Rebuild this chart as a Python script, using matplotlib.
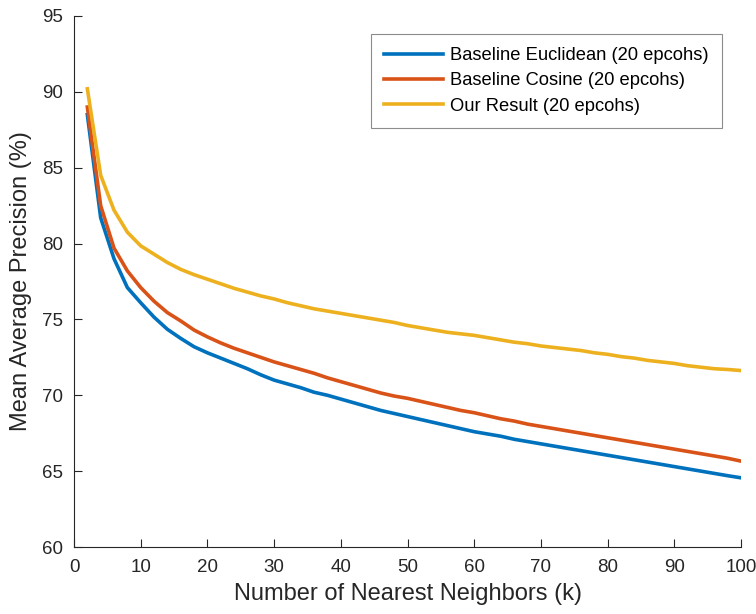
import matplotlib
matplotlib.use("Agg")
import matplotlib.pyplot as plt
import numpy as np

plt.rcParams['font.family'] = ['Liberation Sans', 'DejaVu Sans']

k = list(range(2, 101, 2))

euclidean = [88.5, 81.7, 79.0, 77.1, 76.1, 75.15, 74.35, 73.75, 73.2, 72.8,
             72.45, 72.1, 71.75, 71.35, 71.0, 70.75, 70.5, 70.2, 70.0, 69.75,
             69.5, 69.25, 69.0, 68.8, 68.6, 68.4, 68.2, 68.0, 67.8, 67.6,
             67.45, 67.3, 67.1, 66.95, 66.8, 66.65, 66.5, 66.35, 66.2, 66.05,
             65.9, 65.75, 65.6, 65.45, 65.3, 65.15, 65.0, 64.85, 64.7, 64.56]

cosine = [89.0, 82.5, 79.7, 78.2, 77.1, 76.2, 75.45, 74.9, 74.3, 73.85,
          73.45, 73.1, 72.8, 72.5, 72.2, 71.95, 71.7, 71.45, 71.15, 70.9,
          70.65, 70.4, 70.15, 69.95, 69.8, 69.6, 69.4, 69.2, 69.0, 68.85,
          68.65, 68.45, 68.3, 68.1, 67.95, 67.8, 67.65, 67.5, 67.35, 67.2,
          67.05, 66.9, 66.75, 66.6, 66.45, 66.3, 66.15, 66.0, 65.85, 65.66]

ours = [90.2, 84.5, 82.2, 80.75, 79.85, 79.3, 78.75, 78.3, 77.95, 77.65,
        77.35, 77.05, 76.8, 76.55, 76.35, 76.1, 75.9, 75.7, 75.55, 75.4,
        75.25, 75.1, 74.95, 74.8, 74.6, 74.45, 74.3, 74.15, 74.05, 73.95,
        73.8, 73.65, 73.5, 73.4, 73.25, 73.15, 73.05, 72.95, 72.8, 72.7,
        72.55, 72.45, 72.3, 72.2, 72.1, 71.95, 71.85, 71.75, 71.7, 71.63]

labels = ["Baseline Euclidean (20 epcohs)", "Baseline Cosine (20 epcohs)",
          "Our Result (20 epcohs)"]
colors = ["#0072BD", "#D95319", "#EDB120"]

xticks = list(range(0, 101, 10))
yticks = list(range(60, 96, 5))

W, H = 756, 614
fig = plt.figure(figsize=(W / 100, H / 100), dpi=100)
ax = fig.add_axes([74 / W, 1 - 547 / H, (741 - 74) / W, (547 - 16) / H])

for series, lab, c in zip([euclidean, cosine, ours], labels, colors):
    ax.plot(k, series, color=c, lw=2.6, label=lab)

ax.set_xlim(0, 100)
ax.set_ylim(60, 95)
ax.set_xticks(xticks)
ax.set_yticks(yticks)
ax.spines['top'].set_visible(False)
ax.spines['right'].set_visible(False)
for s in ['left', 'bottom']:
    ax.spines[s].set_color('#262626')
    ax.spines[s].set_linewidth(0.8)
ax.tick_params(direction='in', length=6, width=0.8, colors='#262626',
               labelsize=13.5, labelcolor='#262626')
ax.tick_params(axis='y', pad=8)
ax.tick_params(axis='x', pad=9)

ax.set_xlabel("Number of Nearest Neighbors (k)", fontsize=17, color='#262626', labelpad=5)
ax.set_ylabel("Mean Average Precision (%)", fontsize=17, color='#262626', labelpad=7)

leg = ax.legend(loc='upper right', bbox_to_anchor=((722 - 74) / (741 - 74), (547 - 34) / 531),
                borderaxespad=0, fancybox=False, fontsize=13.2, handlelength=3.2,
                handletextpad=0.4, labelspacing=0.45, borderpad=0.72, frameon=True)
leg.get_frame().set_edgecolor('#707070')
leg.get_frame().set_linewidth(0.8)

fig.savefig("out.png", dpi=100)
